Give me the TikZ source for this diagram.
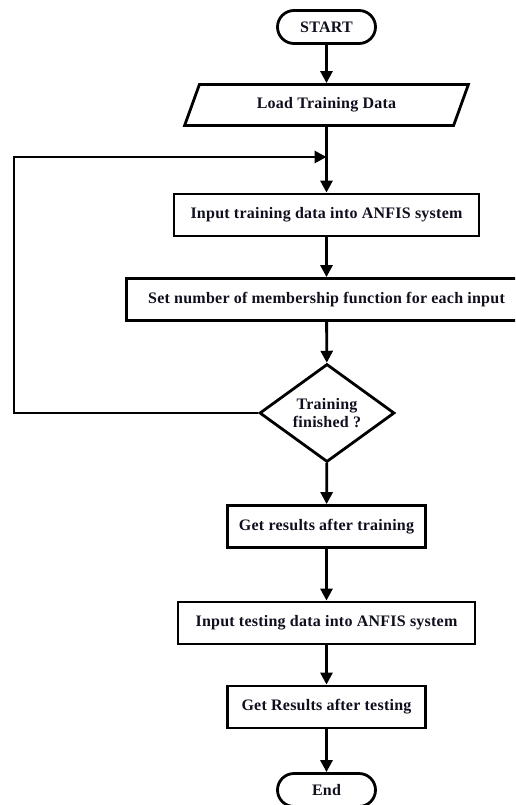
\documentclass[tikz,border=0pt]{standalone}
\usepackage{fontspec}
\setmainfont{Liberation Serif}
\newfontfamily\labfont{Liberation Serif}[LetterSpace=1.5]
\usetikzlibrary{arrows.meta,shapes.geometric,shapes.misc}
\definecolor{txt}{RGB}{15,15,30}
\begin{document}
\begin{tikzpicture}[x=1pt,y=-1pt,
  every node/.style={font=\labfont\bfseries\fontsize{16}{18.5}\selectfont, text=txt, line width=2.8pt, inner sep=0pt},
  term/.style={draw, rounded rectangle, minimum width=98pt, minimum height=33pt},
  proc/.style={draw, rectangle, minimum height=42pt},
  io/.style={draw, trapezium, trapezium left angle=61, trapezium right angle=119, trapezium stretches=true, minimum width=284pt, minimum height=41pt},
  dec/.style={draw, diamond, minimum width=135pt, minimum height=94pt, align=center},
  conn/.style={line width=2.8pt, -{Triangle[length=12pt,width=12pt]}},
  plain/.style={line width=2.8pt}]
\useasboundingbox (0,0) rectangle (515,805);
\clip (0,0) rectangle (515,805);
\node[term] (start) at (326.5,27) {START};
\node[io] (load) at (326.5,105) {Load Training Data};
\coordinate (join) at (326.5,157);
\node[proc, minimum width=305pt] (b1) at (326.5,215) {Input training data into ANFIS system};
\node[proc, minimum width=400pt] (b2) at (326.5,299.5) {Set number of membership function for each input};
\node[dec] (d) at (327,413) {Training\\finished ?};
\node[proc, minimum width=198pt] (b3) at (326.5,526.5) {Get results after training};
\node[proc, minimum width=297pt] (b4) at (326.5,623) {Input testing data into ANFIS system};
\node[proc, minimum width=198pt] (b5) at (326.5,707) {Get Results after testing};
\node[term] (end) at (326.5,790) {End};
\coordinate (lb) at (14,413);
\coordinate (lt) at (14,157);
\draw[conn] (start) -- (load);
\draw[conn] (load) -- (b1);
\draw[conn] (b1) -- (b2);
\draw[conn] (b2) -- (d);
\draw[conn] (d) -- (b3);
\draw[conn] (b3) -- (b4);
\draw[conn] (b4) -- (b5);
\draw[conn] (b5) -- (end);
\draw[conn, line join=miter] (d.west) -- (lb) -- (lt) -- (join);
\end{tikzpicture}
\end{document}
